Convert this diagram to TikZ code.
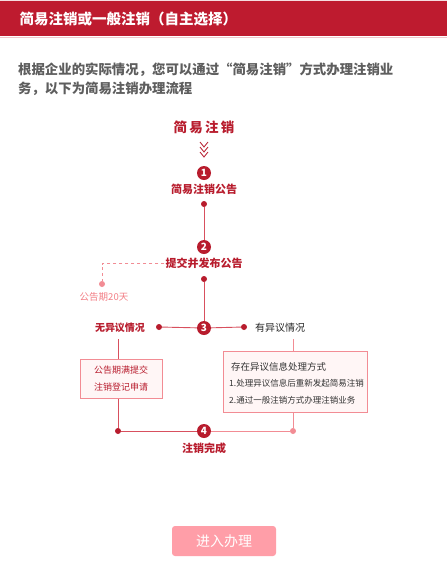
\documentclass[tikz,border=0pt]{standalone}
\usepackage{fontspec}
\setmainfont{Noto Sans CJK SC}
\usetikzlibrary{positioning}
\definecolor{hdred}{HTML}{BE1B2F}
\definecolor{stepred}{HTML}{B81C2D}
\definecolor{linered}{HTML}{D8505E}
\definecolor{softpink}{HTML}{F28C94}
\definecolor{boxfill}{HTML}{FFF6F6}
\definecolor{btnpink}{HTML}{FF9EA8}
\definecolor{txtgray}{HTML}{5E5E5E}
\begin{document}
\begin{tikzpicture}[x=1pt,y=-1pt]
    \tikzset{
        num/.style = {circle, fill=stepred, text=white, inner sep=0pt,
            minimum size=14pt, font=\fontsize{10}{10}\selectfont\bfseries},
        steplabel/.style = {text=stepred, inner sep=1pt, font=\fontsize{11}{12}\selectfont\bfseries},
        dot/.style = {circle, fill=stepred, inner sep=0pt, minimum size=6pt},
        pinkdot/.style = {dot, fill=softpink},
        link/.style = {draw=linered, line width=0.9pt},
        infobox/.style = {draw=softpink, fill=boxfill, line width=0.7pt, inner sep=0pt}
    }
    \useasboundingbox[fill=white] (0,0) rectangle (447,574);
    % header
    \fill[hdred] (0,0) rectangle (447,36);
    \draw[white!85!hdred] (0,0.5) -- (447,0.5);
    \draw[hdred!25, line width=1pt] (0,37) -- (447,37);
    \node[anchor=west, text=white, font=\fontsize{14.5}{15}\selectfont\bfseries]
        (title) at (16,19) {简易注销或一般注销（自主选择）};
    \node[anchor=north west, text=txtgray, align=left, inner sep=0pt,
        font=\fontsize{13.4}{19}\selectfont\bfseries] (intro) at (18,63)
        {根据企业的实际情况，您可以通过“简易注销”方式办理注销业\\务，以下为简易注销办理流程};
    % steps
    \node[text=stepred, font=\fontsize{13.5}{14}\selectfont\bfseries] (head) at (204,127)
        {简\,易\,注\,销};
    \foreach \y in {142,147,152}
        \draw[stepred, line width=0.8pt] (200,\y) -- (204,\y+5) -- (208,\y);
    \node[num] (n1) at (204,173) {1};
    \node[steplabel, below=3pt of n1] (l1) {简易注销公告};
    \node[dot] (d1) at (204,204) {};
    \node[num] (n2) at (204,247) {2};
    \node[steplabel, below=3pt of n2] (l2) {提交并发布公告};
    \node[dot] (d2) at (204,279) {};
    \node[pinkdot] (dw) at (102,284) {};
    \node[text=softpink!90!red, font=\fontsize{9.5}{10}\selectfont, inner sep=1pt]
        (wait) at (104,297) {公告期20天};
    \node[num] (n3) at (204,328) {3};
    \node[dot] (dl) at (159,327) {};
    \node[dot] (dr) at (244,327) {};
    \node[steplabel, font=\fontsize{10}{11}\selectfont\bfseries] (noobj) at (120,328) {无异议情况};
    \node[text=black!85, font=\fontsize{10}{11}\selectfont, inner sep=1pt] (obj) at (280,328) {有异议情况};
    \node[dot] (b1) at (118,431) {};
    \node[num] (n4) at (204,431) {4};
    \node[pinkdot] (b2) at (293,431) {};
    \node[steplabel] (l4) at (204,448) {注销完成};
    % connectors
    \draw[link] (d1) -- (n2);
    \draw[link] (d2) -- (n3);
    \draw[link] (n3) -- (dl);
    \draw[link] (n3) -- (dr);
    \draw[softpink, dashed, line width=0.7pt] (l2.west) -| (dw);
    \draw[link] (118,339) -- (b1);
    \draw[softpink, line width=0.8pt] (293,339) -- (b2);
    \draw[link] (b1) -- (n4);
    \draw[softpink, line width=0.9pt] (n4) -- (b2);
    % boxes
    \node[infobox, minimum width=82pt, minimum height=39pt, align=center,
        text=stepred, font=\fontsize{9}{17}\selectfont] (pass) at (121,378.5)
        {公告期满提交\\注销登记申请};
    \node[infobox, minimum width=144pt, minimum height=61pt] (deal) at (295,381.5) {};
    \node[anchor=west, text=black!80, font=\fontsize{9.5}{10}\selectfont, inner sep=0pt]
        (deal0) at (231,367) {存在异议信息处理方式};
    \node[anchor=west, text=black!80, font=\fontsize{8.5}{9}\selectfont, inner sep=0pt]
        (deal1) at (229,383) {1.处理异议信息后重新发起简易注销};
    \node[anchor=west, text=black!80, font=\fontsize{8.5}{9}\selectfont, inner sep=0pt]
        (deal2) at (229,400) {2.通过一般注销方式办理注销业务};
    % button
    \node[fill=btnpink, rounded corners=3pt, minimum width=104pt, minimum height=30pt,
        text=white, font=\fontsize{14}{14}\selectfont] (go) at (224,541) {进入办理};
\end{tikzpicture}
\end{document}
